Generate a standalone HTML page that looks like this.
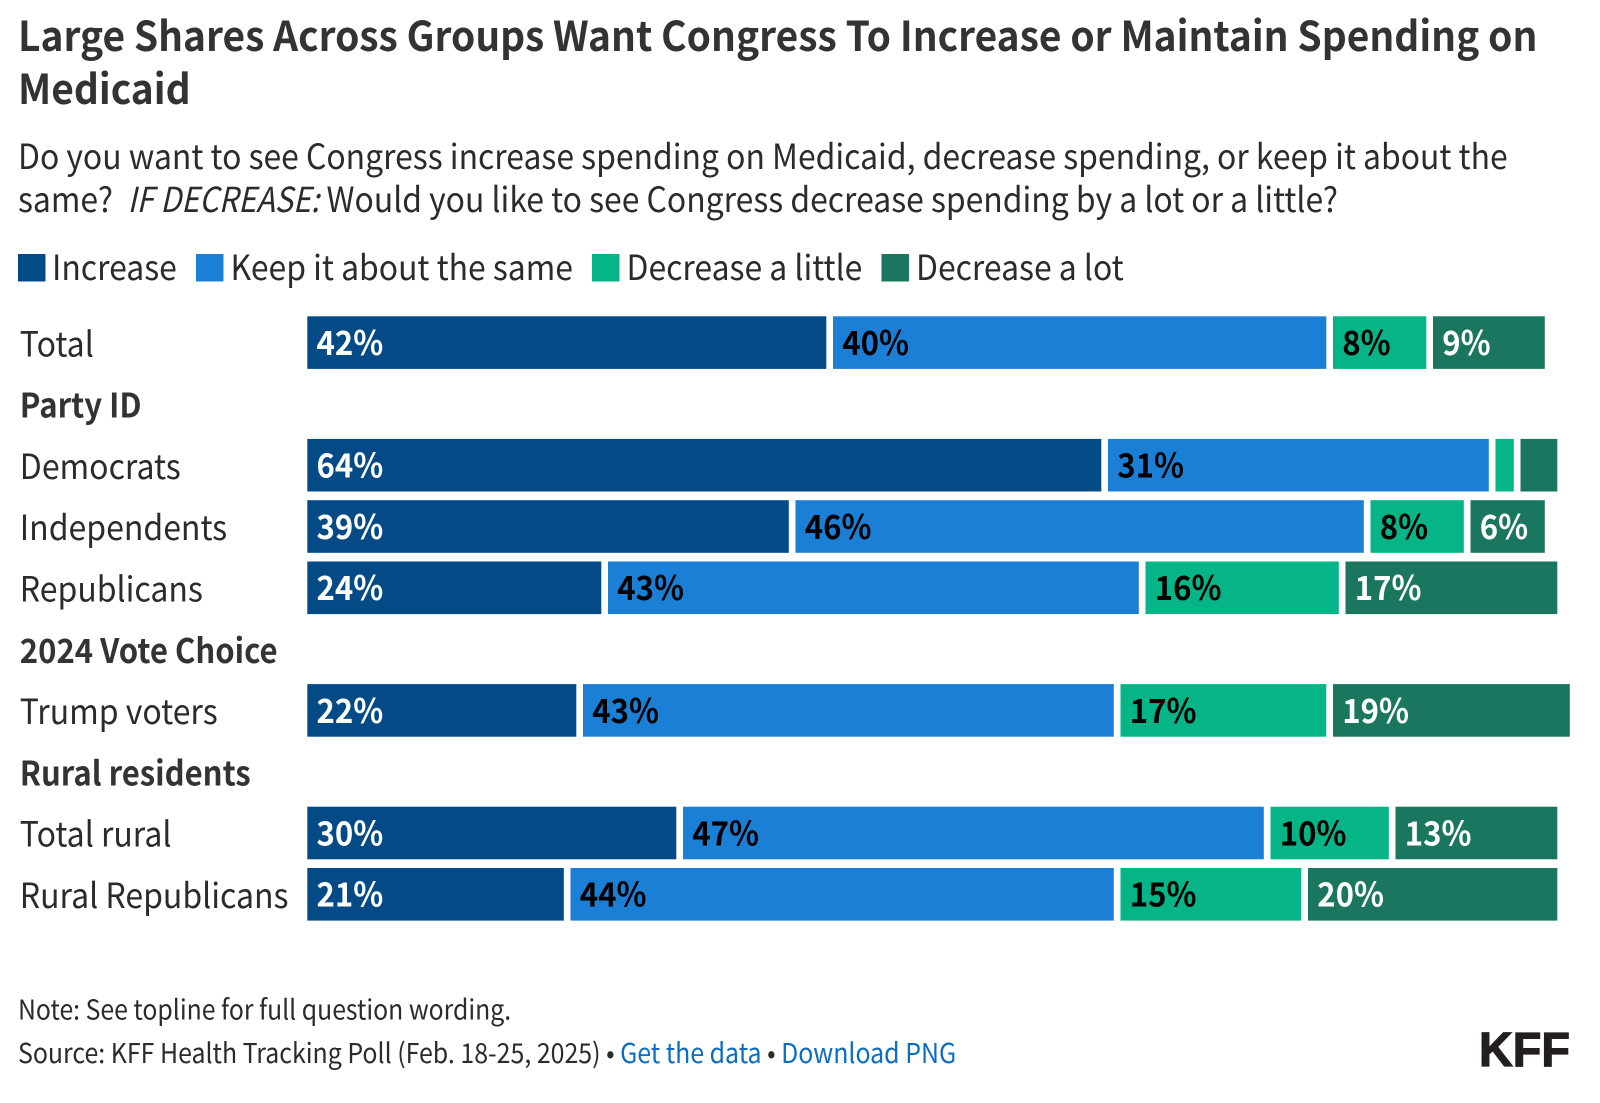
<!DOCTYPE html>
<html lang="en">
<head>
<meta charset="utf-8">
<title>Large Shares Across Groups Want Congress To Increase or Maintain Spending on Medicaid</title>
<style>
html,body{margin:0;padding:0;background:#fff;width:1600px;height:1103px;overflow:hidden}
svg{display:block}
text{font-family:"Noto Sans CJK JP","Liberation Sans",sans-serif}
.title{font-size:41px;font-weight:700;fill:#333}
.sub{font-size:34.5px;fill:#2b2b2b}
.legend{font-size:34.5px;fill:#2b2b2b}
.cat{font-size:34.5px;fill:#2b2b2b}
.head{font-size:33.5px;font-weight:700;fill:#333}
.val{font-size:33.5px;font-weight:700}
.foot{font-size:27.5px;fill:#2b2b2b}
.link{fill:#0b6cc4}
</style>
</head>
<body>
<svg id="chart" xmlns="http://www.w3.org/2000/svg" width="1600" height="1103" viewBox="0 0 1600 1103">
  <rect width="1600" height="1103" fill="#fff"/>
  <text class="title" transform="translate(18,51) scale(.949,1)">Large Shares Across Groups Want Congress To Increase or Maintain Spending on</text>
  <text class="title" transform="translate(18,104) scale(.95,1)">Medicaid</text>
  <text class="sub" transform="translate(18,169) scale(.9247,1)">Do you want to see Congress increase spending on Medicaid, decrease spending, or keep it about the</text>
  <text class="sub" transform="translate(18,212) scale(.9247,1)">same?</text>
  <text class="sub" font-style="italic" transform="translate(127.5,212) scale(.886,1)">IF DECREASE:</text>
  <text class="sub" transform="translate(326.5,212) scale(.9247,1)">Would you like to see Congress decrease spending by a lot or a little?</text>

  <g>
    <rect x="18" y="254" width="27.5" height="27.5" fill="#034a87"/>
    <text class="legend" transform="translate(52,280) scale(.925,1)">Increase</text>
    <rect x="196" y="254" width="27.5" height="27.5" fill="#1c7fd6"/>
    <text class="legend" transform="translate(230.5,280) scale(.925,1)">Keep it about the same</text>
    <rect x="592" y="254" width="27.5" height="27.5" fill="#05b487"/>
    <text class="legend" transform="translate(626.5,280) scale(.925,1)">Decrease a little</text>
    <rect x="881.5" y="254" width="27.5" height="27.5" fill="#1b7660"/>
    <text class="legend" transform="translate(916,280) scale(.925,1)">Decrease a lot</text>
  </g>

  <g id="plot"></g>

  <text class="foot" transform="translate(18,1019.5) scale(.902,1)">Note: See topline for full question wording.</text>
  <text class="foot" transform="translate(18,1063) scale(.906,1)">Source: KFF Health Tracking Poll (Feb. 18-25, 2025) • <tspan class="link">Get the data</tspan> • <tspan class="link">Download PNG</tspan></text>
  <text x="1479" y="1066" font-size="48" font-weight="700" fill="#231f20" stroke="#231f20" stroke-width="1.2" textLength="91" lengthAdjust="spacingAndGlyphs" style="font-family:'Liberation Sans',sans-serif">KFF</text>
</svg>

<script>
const categories = ["Total", "Party ID", "Democrats", "Independents", "Republicans", "2024 Vote Choice", "Trump voters", "Rural residents", "Total rural", "Rural Republicans"];
const increase = [42, null, 64, 39, 24, null, 22, null, 30, 21];
const keepSame = [40, null, 31, 46, 43, null, 43, null, 47, 44];
const decreaseLittle = [8, null, 2, 8, 16, null, 17, null, 10, 15];
const decreaseLot = [9, null, 3, 6, 17, null, 19, null, 13, 20];
const seriesNames = ["increase", "keep", "decrease-little", "decrease-lot"];

const NS = "http://www.w3.org/2000/svg";
const plot = document.getElementById("plot");
const seriesValues = [increase, keepSame, decreaseLittle, decreaseLot];
const seriesFill = ["#034a87", "#1c7fd6", "#05b487", "#1b7660"];
const labelFill = ["#fff", "#000", "#000", "#fff"];
const GAP = 6;
const START_NUDGE = 0.7;
const BAR_H = 52.6;
const MIN_LABEL = 5;

function xScale(v) { return 307.3 + v * 12.5; }
function yScale(i) { return 316.3 + i * 61.3; }

categories.forEach(function (cat, i) {
  const isHeader = increase[i] === null;
  const slug = cat.toLowerCase().replace(/[^a-z0-9]+/g, "-");
  const t = document.createElementNS(NS, "text");
  
  
  t.setAttribute("class", isHeader ? "head" : "cat");
  t.setAttribute("transform", "translate(19.8," + (yScale(i) + 40) + ") scale(.928,1)");
  t.textContent = cat;
  plot.appendChild(t);
  if (isHeader) return;

  let cum = 0;
  const present = seriesValues.map(function (s) { return s[i]; });
  present.forEach(function (v, s) {
    const x0 = xScale(cum) + (s > 0 ? START_NUDGE : 0);
    const x1 = xScale(cum + v);
    const last = s === present.length - 1;
    const r = document.createElementNS(NS, "rect");
    
    
    r.setAttribute("x", x0);
    r.setAttribute("y", yScale(i));
    r.setAttribute("width", x1 - x0 - (last ? 0 : GAP));
    r.setAttribute("height", BAR_H);
    r.setAttribute("fill", seriesFill[s]);
    plot.appendChild(r);
    if (v >= MIN_LABEL) {
      const l = document.createElementNS(NS, "text");
      
      
      l.setAttribute("class", "val");
      l.setAttribute("transform", "translate(" + (x0 + 9.2) + "," + (yScale(i) + 38.7) + ") scale(.93,1)");
      l.setAttribute("fill", labelFill[s]);
      l.textContent = v + "%";
      plot.appendChild(l);
    }
    cum += v;
  });
});
</script>
</body>
</html>
